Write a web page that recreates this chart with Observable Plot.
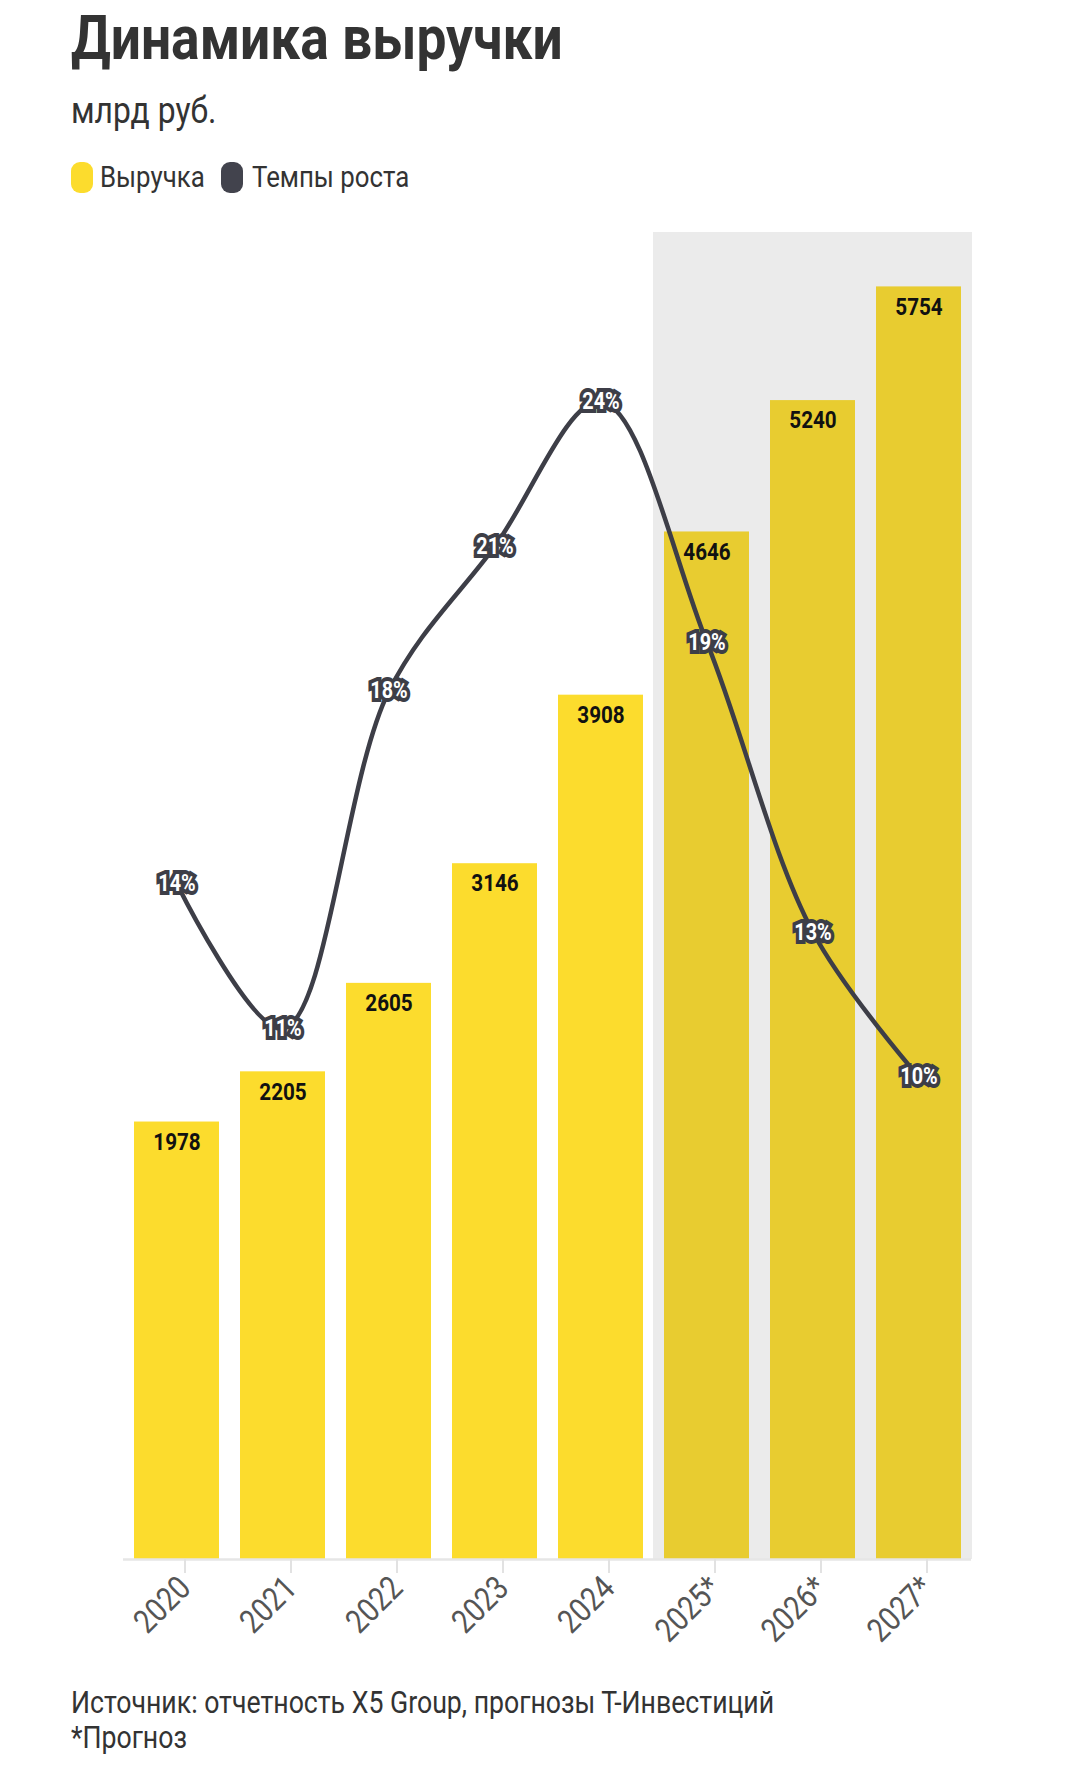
<!DOCTYPE html>
<html>
<head>
<meta charset="utf-8">
<script src="https://cdn.jsdelivr.net/npm/d3@7"></script>
<script src="https://cdn.jsdelivr.net/npm/@observablehq/plot@0.6"></script>
<style>
  html, body { margin: 0; padding: 0; background: #fff; }
  body { width: 1080px; font-family: Roboto, "Noto Sans", sans-serif; color: #333; }
  .block { position: relative; width: 1080px; }
  .t { position: absolute; left: 71px; white-space: nowrap; line-height: 1; display: inline-block; transform: scaleX(0.86); transform-origin: 0 0; }
  .sw { position: absolute; width: 22px; height: 31px; border-radius: 9px; }
  #chart svg { display: block; }
</style>
</head>
<body>
<div class="block" id="header" style="height:200px">
  <span class="t" style="top:7.2px;font-size:62px;font-weight:700;color:#333">Динамика выручки</span>
  <span class="t" style="top:92px;font-size:37px;font-weight:400;color:#333">млрд руб.</span>
  <div class="sw" style="left:71px;top:162px;background:#fcdc2d"></div>
  <span class="t" style="left:100px;top:162px;font-size:30px;color:#333">Выручка</span>
  <div class="sw" style="left:221px;top:162px;background:#42434d"></div>
  <span class="t" style="left:252px;top:162px;font-size:30px;color:#333">Темпы роста</span>
</div>
<div id="chart"></div>
<div class="block" id="footer" style="height:118px">
  <span class="t" style="top:17px;font-size:31px;color:#333">Источник: отчетность X5 Group, прогнозы Т-Инвестиций</span>
  <span class="t" style="top:52px;font-size:31px;color:#333">*Прогноз</span>
</div>
<script>
// ---- data ----
const years = ["2020", "2021", "2022", "2023", "2024", "2025*", "2026*", "2027*"];
const revenue = [1978, 2205, 2605, 3146, 3908, 4646, 5240, 5754];
const growth = [14, 11, 18, 21, 24, 19, 13, 10];
const forecastYears = ["2025*", "2026*", "2027*"];
const yMax = 6000;       // top of revenue axis
const growthMax = 27.5;  // top of growth-rate axis (same vertical extent)

// ---- layout ----
const W = 1080, H = 1470;
const mL = 123, mR = 109, mT = 32, mB = 111;
const pInner = 0.2, pOuter = 0.1;
const step = (W - mL - mR) / (years.length - pInner + 2 * pOuter);
const shadeInset = -(pInner * step) / 2;

const rows = years.map((y, i) => ({
  year: y,
  revenue: revenue[i],
  growth: growth[i],
  forecast: forecastYears.includes(y)
}));
const shade = forecastYears.map(y => ({year: y, top: yMax}));
const g2y = g => g * yMax / growthMax;

const yellow = "#fcdc2d", yellowF = "#e8cc30", dark = "#3d3e47";

const plot = Plot.plot({
  width: W, height: H,
  marginLeft: mL, marginRight: mR, marginTop: mT, marginBottom: mB,
  style: {fontFamily: "Roboto, sans-serif", background: "#fff", overflow: "visible"},
  x: {type: "band", domain: years, paddingInner: pInner, paddingOuter: pOuter, align: 0.5, label: null},
  y: {domain: [0, yMax], axis: null},
  marks: [
    Plot.barY(shade, {x: "year", y: "top", fill: "#ebebeb", insetLeft: shadeInset, insetRight: shadeInset, shapeRendering: "crispEdges"}),
    Plot.barY(rows.filter(d => !d.forecast), {x: "year", y: "revenue", fill: yellow}),
    Plot.barY(rows.filter(d => d.forecast), {x: "year", y: "revenue", fill: yellowF}),
    Plot.ruleY([0], {stroke: "#e6e6e6", strokeWidth: 2.5}),
    Plot.axisX({tickRotate: -45, tickSize: 14, tickPadding: 9, stroke: "#e2e2e2", strokeWidth: 2, fill: "#555", fontSize: 33, dx: 8, label: null}),
    Plot.text(rows, {x: "year", y: "revenue", text: d => String(d.revenue), dy: 20, lineAnchor: "middle", fontSize: 24, fontWeight: 700, fill: "#111"}),
    Plot.line(rows, {x: "year", y: d => g2y(d.growth), curve: "catmull-rom", stroke: dark, strokeWidth: 4.5}),
    Plot.text(rows, {x: "year", y: d => g2y(d.growth), text: d => d.growth + "%", lineAnchor: "middle", fontSize: 23, fontWeight: 700, fill: "#fff", stroke: dark, strokeWidth: 8, strokeLinejoin: "miter"})
  ]
});
document.getElementById("chart").appendChild(plot);

// condense SVG text to mimic a condensed typeface
plot.querySelectorAll("text").forEach(t => {
  const len = t.getComputedTextLength();
  if (len > 0) {
    t.setAttribute("textLength", (len * 0.86).toFixed(2));
    t.setAttribute("lengthAdjust", "spacingAndGlyphs");
  }
});
</script>
</body>
</html>
